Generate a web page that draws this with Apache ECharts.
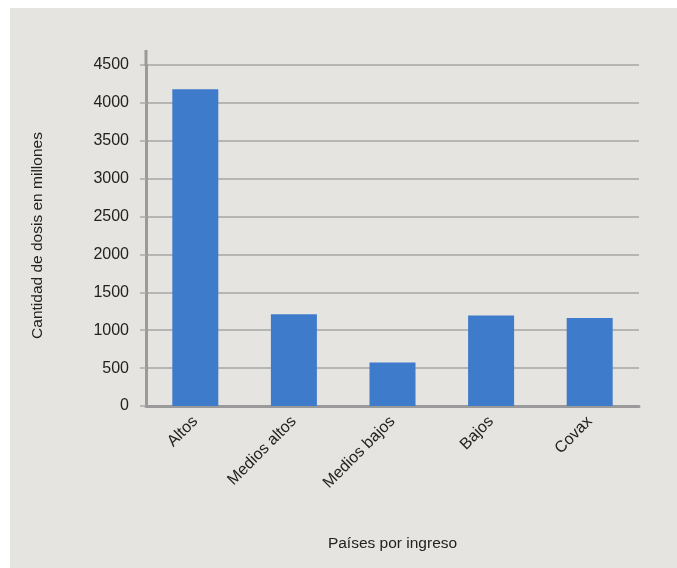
<!DOCTYPE html>
<html>
<head>
<meta charset="utf-8">
<script src="https://cdn.jsdelivr.net/npm/echarts@6/dist/echarts.min.js"></script>
<style>
html,body{margin:0;padding:0;background:#fff;}
#c{width:677px;height:568px;}
</style>
</head>
<body>
<div id="c"></div>
<script>
const categories = ['Altos', 'Medios altos', 'Medios bajos', 'Bajos', 'Covax'];
const dosis = [4180, 1210, 575, 1195, 1160];
const yTicks = [0, 500, 1000, 1500, 2000, 2500, 3000, 3500, 4000, 4500];

const FONT = '"Liberation Sans Narrow", "Liberation Sans", Arial, sans-serif';
const chart = echarts.init(document.getElementById('c'));
const option = {
  backgroundColor: '#ffffff',
  animation: false,
  textStyle: { fontFamily: FONT },
  graphic: [
    { type: 'rect', z: -10, shape: { x: 10, y: 8, width: 667, height: 560 }, style: { fill: '#e5e4e0' } },
    { type: 'line', z: 5, shape: { x1: 146, y1: 50, x2: 146, y2: 66 }, style: { stroke: '#9a9a9a', lineWidth: 3 } }
  ],
  grid: { left: 146, right: 38, top: 65, bottom: 162 },
  xAxis: {
    type: 'category',
    data: categories,
    name: 'Países por ingreso',
    nameLocation: 'middle',
    nameGap: 130,
    nameTextStyle: { fontFamily: FONT, fontSize: 15.5, color: '#222', verticalAlign: 'top' },
    axisLine: { lineStyle: { color: '#9a9a9a', width: 3 } },
    axisTick: { alignWithLabel: true, length: 6, lineStyle: { color: '#aaa', width: 1.5 } },
    axisLabel: { rotate: 45, fontFamily: FONT, fontSize: 16, color: '#222', margin: 13, interval: 0 }
  },
  yAxis: {
    type: 'value',
    min: yTicks[0],
    max: yTicks[yTicks.length - 1],
    interval: yTicks[1] - yTicks[0],
    name: 'Cantidad de dosis en millones',
    nameLocation: 'middle',
    nameGap: 100,
    nameTextStyle: { fontFamily: FONT, fontSize: 15.5, color: '#222' },
    axisLine: { show: true, lineStyle: { color: '#9a9a9a', width: 3 } },
    axisTick: { show: true, length: 6, lineStyle: { color: '#aaa', width: 1.5 } },
    axisLabel: { fontFamily: FONT, fontSize: 16, color: '#222', margin: 17, formatter: v => String(v) },
    splitLine: { lineStyle: { color: '#b5b5b3', width: 2 } }
  },
  series: [{
    type: 'bar',
    data: dosis,
    barWidth: 46,
    itemStyle: { color: '#3f7bcb' }
  }]
};
chart.setOption(option);
</script>
</body>
</html>
